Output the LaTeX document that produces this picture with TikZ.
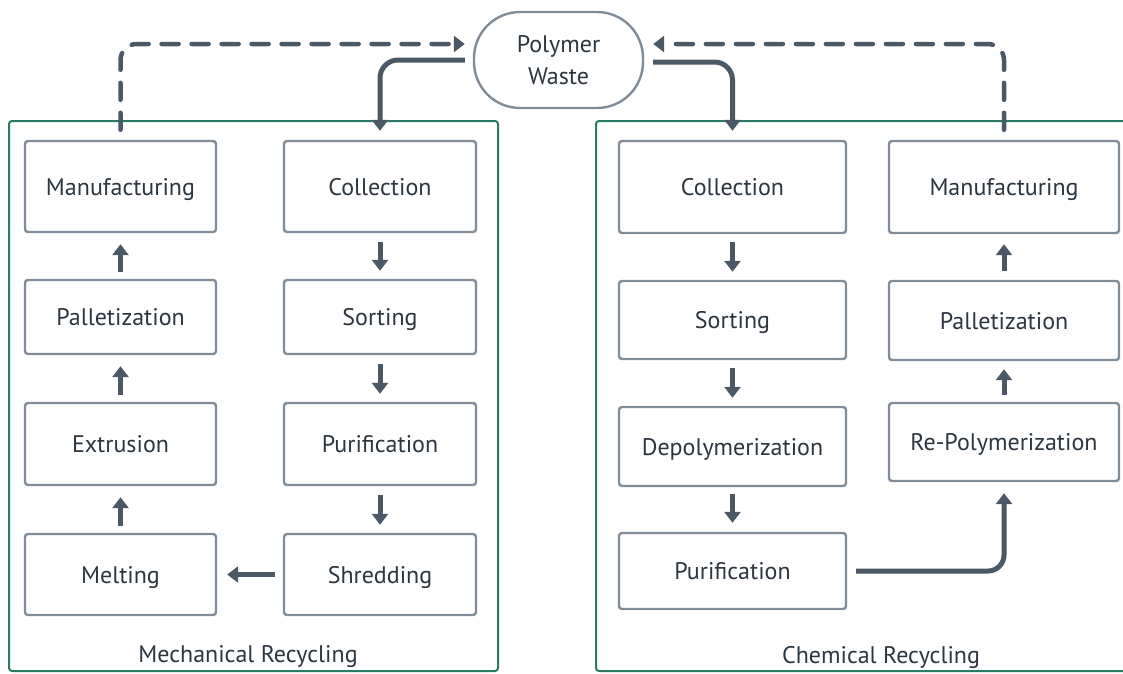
\documentclass[tikz,border=0pt]{standalone}
\usepackage{fontspec}
\setmainfont{PT Sans}
\usetikzlibrary{arrows.meta}
\definecolor{arrowc}{HTML}{4B5966}
\definecolor{boxc}{HTML}{808D99}
\definecolor{framec}{HTML}{2A7A66}
\definecolor{textc}{HTML}{2B3640}
\tikzset{
  stepbox/.style={draw=boxc, line width=2.4pt, rounded corners=3pt, fill=white,
    text=textc, font=\fontsize{24}{28}\selectfont, inner sep=0pt, text height=17pt, text depth=0pt},
  frame/.style={draw=framec, line width=2pt, rounded corners=3pt},
  flow/.style={draw=arrowc, line width=5pt, -{Triangle[length=11pt,width=16pt]}},
  dflow/.style={draw=arrowc, line width=4.5pt, line cap=round, dash pattern=on 17pt off 13pt,
    rounded corners=16pt, -{Triangle[length=11pt,width=16pt]}},
  lbl/.style={text=textc, font=\fontsize{24}{28}\selectfont, inner sep=0pt}
}
\begin{document}
\begin{tikzpicture}[x=1pt,y=-1pt]
\useasboundingbox (0,0) rectangle (1123,673);
\clip (0,0) rectangle (1123,673);
% frames
\draw[frame] (9,121) rectangle (498,671);
\draw[frame] (596,121) rectangle (1140,671);
\node[lbl] (mechlbl) at (248,657) {Mechanical Recycling};
\node[lbl] (chemlbl) at (881,657) {Chemical Recycling};
% polymer waste
\node[draw=boxc, line width=2.4pt, rounded corners=46pt, minimum width=169pt, minimum height=96pt,
  text=textc, font=\fontsize{24}{32}\selectfont, align=center, inner sep=0pt] (pw) at (558.5,60) {Polymer\\Waste};
% mechanical boxes
\node[stepbox, minimum width=191pt, minimum height=91pt] (manL) at (120.5,186.5) {Manufacturing};
\node[stepbox, minimum width=191pt, minimum height=74pt] (palL) at (120.5,317) {Palletization};
\node[stepbox, minimum width=191pt, minimum height=82pt] (extL) at (120.5,444) {Extrusion};
\node[stepbox, minimum width=191pt, minimum height=81pt] (melL) at (120.5,574.5) {Melting};
\node[stepbox, minimum width=192pt, minimum height=91pt] (colL) at (380,186.5) {Collection};
\node[stepbox, minimum width=192pt, minimum height=74pt] (sorL) at (380,317) {Sorting};
\node[stepbox, minimum width=192pt, minimum height=82pt] (purL) at (380,444) {Purification};
\node[stepbox, minimum width=192pt, minimum height=81pt] (shrL) at (380,574.5) {Shredding};
% chemical boxes
\node[stepbox, minimum width=227pt, minimum height=92pt] (colR) at (732.5,187) {Collection};
\node[stepbox, minimum width=227pt, minimum height=78pt] (sorR) at (732.5,320) {Sorting};
\node[stepbox, minimum width=227pt, minimum height=79pt] (depR) at (732.5,446.5) {Depolymerization};
\node[stepbox, minimum width=227pt, minimum height=76pt] (purR) at (732.5,571) {Purification};
\node[stepbox, minimum width=230pt, minimum height=92pt] (manR) at (1004,187) {Manufacturing};
\node[stepbox, minimum width=230pt, minimum height=79pt] (palR) at (1004,320.5) {Palletization};
\node[stepbox, minimum width=230pt, minimum height=78pt] (repR) at (1004,442) {Re-Polymerization};
% mechanical arrows
\draw[flow, shorten <=7pt, shorten >=11pt] (palL.north) -- (manL.south);
\draw[flow, shorten <=7pt, shorten >=11pt] (extL.north) -- (palL.south);
\draw[flow, shorten <=7pt, shorten >=11pt] (melL.north) -- (extL.south);
\draw[flow, shorten <=9pt, shorten >=8pt] (colL.south) -- (sorL.north);
\draw[flow, shorten <=9pt, shorten >=8pt] (sorL.south) -- (purL.north);
\draw[flow, shorten <=9pt, shorten >=8pt] (purL.south) -- (shrL.north);
\draw[flow, shorten <=8pt, shorten >=10pt] (shrL.west) -- (melL.east);
% chemical arrows
\draw[flow, shorten <=8pt, shorten >=8pt] (colR.south) -- (sorR.north);
\draw[flow, shorten <=8pt, shorten >=8pt] (sorR.south) -- (depR.north);
\draw[flow, shorten <=7pt, shorten >=9pt] (depR.south) -- (purR.north);
\draw[flow, shorten <=7pt, shorten >=8pt] (repR.north) -- (palR.south);
\draw[flow, shorten <=9pt, shorten >=10pt] (palR.north) -- (manR.south);
\draw[flow, rounded corners=16pt, shorten <=9pt, shorten >=11pt] (purR.east) -| (repR.south);
% polymer waste arrows
\draw[flow, rounded corners=18pt, shorten >=9pt] ([xshift=-8pt]pw.west) -| (colL.north);
\draw[flow, rounded corners=18pt, shorten >=9pt] ([xshift=9pt,yshift=-2pt]pw.east) -| (colR.north);
\draw[dflow, shorten <=10pt] (manL.north) |- ([xshift=-8pt,yshift=16pt]pw.west);
\draw[dflow, shorten <=10pt] (manR.north) |- ([xshift=9pt,yshift=16pt]pw.east);
\end{tikzpicture}
\end{document}
